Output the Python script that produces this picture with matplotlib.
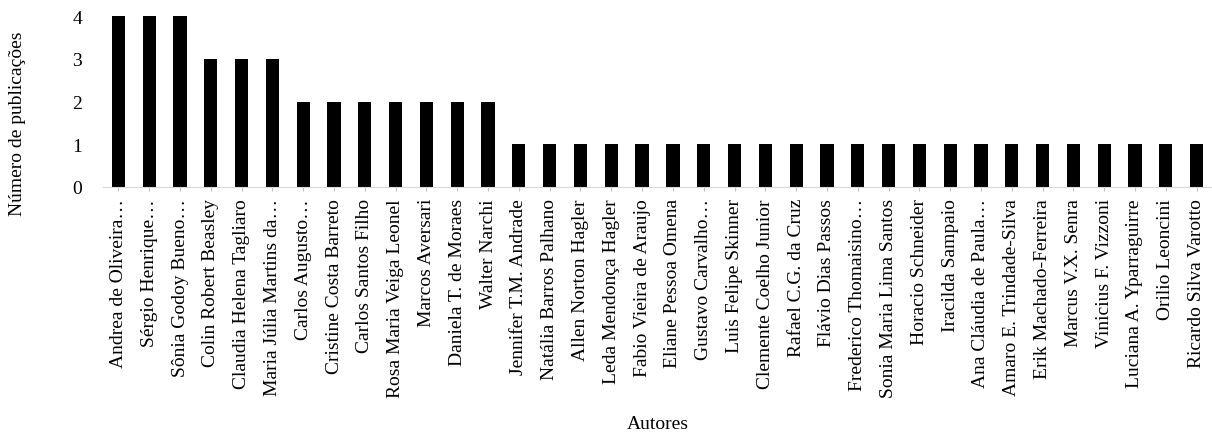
import matplotlib.pyplot as plt

autores = [
    "Andrea de Oliveira…", "Sérgio Henrique…", "Sônia Godoy Bueno…",
    "Colin Robert Beasley", "Claudia Helena Tagliaro", "Maria Júlia Martins da…",
    "Carlos Augusto…", "Cristine Costa Barreto", "Carlos Santos Filho",
    "Rosa Maria Veiga Leonel", "Marcos Aversari", "Daniela T. de Moraes",
    "Walter Narchi", "Jennifer T.M. Andrade", "Natália Barros Palhano",
    "Allen Norton Hagler", "Leda Mendonça Hagler", "Fabio Vieira de Araujo",
    "Eliane Pessoa Omena", "Gustavo Carvalho…", "Luis Felipe Skinner",
    "Clemente Coelho Junior", "Rafael C.G. da Cruz", "Flávio Dias Passos",
    "Frederico Thomaisino…", "Sonia Maria Lima Santos", "Horacio Schneider",
    "Iracilda Sampaio", "Ana Cláudia de Paula…", "Amaro E. Trindade-Silva",
    "Erik Machado-Ferreira", "Marcus V.X. Senra", "Vinicius F. Vizzoni",
    "Luciana A. Yparraguirre", "Orilio Leoncini", "Ricardo Silva Varotto",
]
publicacoes = [4, 4, 4, 3, 3, 3, 2, 2, 2, 2, 2, 2, 2,
               1, 1, 1, 1, 1, 1, 1, 1, 1, 1, 1, 1, 1, 1, 1, 1, 1, 1, 1, 1, 1, 1, 1]

plt.rcParams['font.family'] = ['Liberation Serif', 'DejaVu Serif']

fig = plt.figure(figsize=(12.12, 4.39), dpi=100)
ax = fig.add_axes([103 / 1212, 1 - 188 / 439, 1 - 103 / 1212, 171 / 439])

x = range(len(autores))
ax.bar(x, publicacoes, width=0.43, color="black")

ax.set_xlim(-0.5, len(autores) - 0.5)
ax.set_ylim(0, 4)
ax.set_yticks([0, 1, 2, 3, 4])
ax.set_xticks(list(x))
ax.set_xticklabels(autores, rotation=90, fontsize=14)
ax.tick_params(axis="y", length=0, labelsize=14, pad=15)
ax.tick_params(axis="x", length=3, color="#bfbfbf", pad=5)

for s in ["top", "right", "left"]:
    ax.spines[s].set_visible(False)
ax.spines["bottom"].set_color("#d9d9d9")

ax.set_ylabel("Número de publicações", fontsize=14)
ax.yaxis.set_label_coords(-0.069, 0.374)
ax.set_xlabel("Autores", fontsize=14, labelpad=13)

fig.savefig("out.png", dpi=100)
